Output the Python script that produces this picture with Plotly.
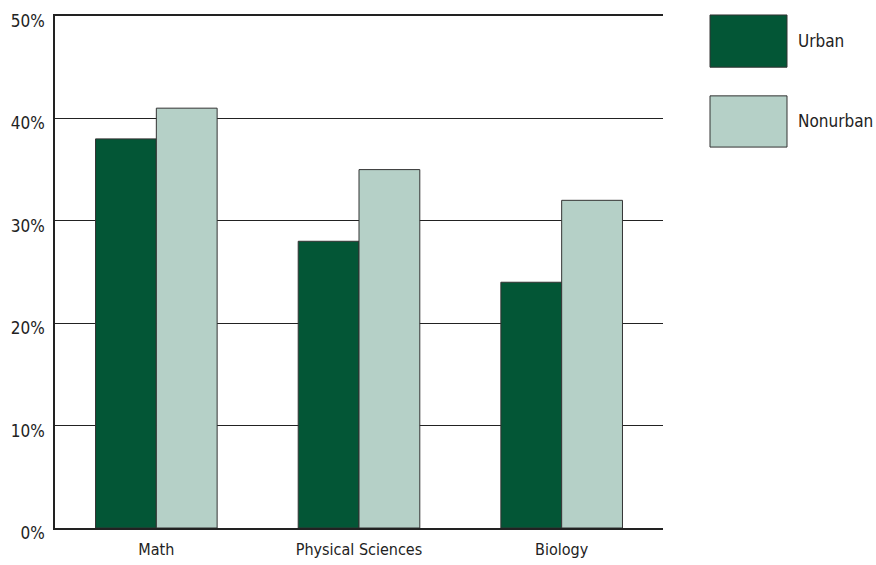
import plotly.graph_objects as go

categories = ["Math", "Physical Sciences", "Biology"]
series_names = ["Urban", "Nonurban"]
urban = [38, 28, 24]
nonurban = [41, 35, 32]
y_ticks = [0, 10, 20, 30, 40, 50]
y_tick_labels = [f"{v}%" for v in y_ticks]

colors = ["#035636", "#b5d0c7"]
FONT = "'DejaVu Sans Condensed', 'Liberation Sans Narrow', sans-serif"

fig = go.Figure()
for name, vals, col in zip(series_names, [urban, nonurban], colors):
    fig.add_trace(go.Bar(x=categories, y=vals, name=name, marker_color=col,
                         marker_line=dict(color="#333333", width=1), showlegend=False))

fig.update_layout(
    width=876, height=565,
    margin=dict(l=55, r=213, t=16, b=37, autoexpand=False),
    barmode="group", bargap=0.4, bargroupgap=0,
    plot_bgcolor="white", paper_bgcolor="white",
    font=dict(family=FONT, size=16, color="#222222"),
    xaxis=dict(showline=True, mirror=True, linecolor="#222222", linewidth=1.5, showgrid=False,
               ticks="", tickfont=dict(size=16), ticklabelstandoff=6, automargin=False),
    yaxis=dict(range=[0, 50], tickmode="array", tickvals=y_ticks, ticktext=y_tick_labels,
               showline=True, linecolor="#222222", linewidth=1.5, showgrid=True,
               gridcolor="#222222", gridwidth=1.3, zeroline=False, ticks="",
               ticklabelstandoff=5, ticklabelshift=5, tickfont=dict(size=17),
               automargin=False),
)

# legend swatches (paper coordinates)
legend_y = [(1.002, 0.900), (0.844, 0.744)]
x0p = (710 - 55) / (876 - 55 - 213)
x1p = (787 - 55) / (876 - 55 - 213)
for (ytop, ybot), col, name in zip(legend_y, colors, series_names):
    fig.add_shape(type="rect", xref="paper", yref="paper", x0=x0p, x1=x1p, y0=ybot, y1=ytop,
                  fillcolor=col, line=dict(color="#333333", width=1))
    fig.add_annotation(xref="paper", yref="paper", x=x1p + 0.015, y=(ytop + ybot) / 2,
                       text=name, showarrow=False, xanchor="left", yanchor="middle",
                       font=dict(size=17, color="#222222"))

fig.write_html("out.html")
